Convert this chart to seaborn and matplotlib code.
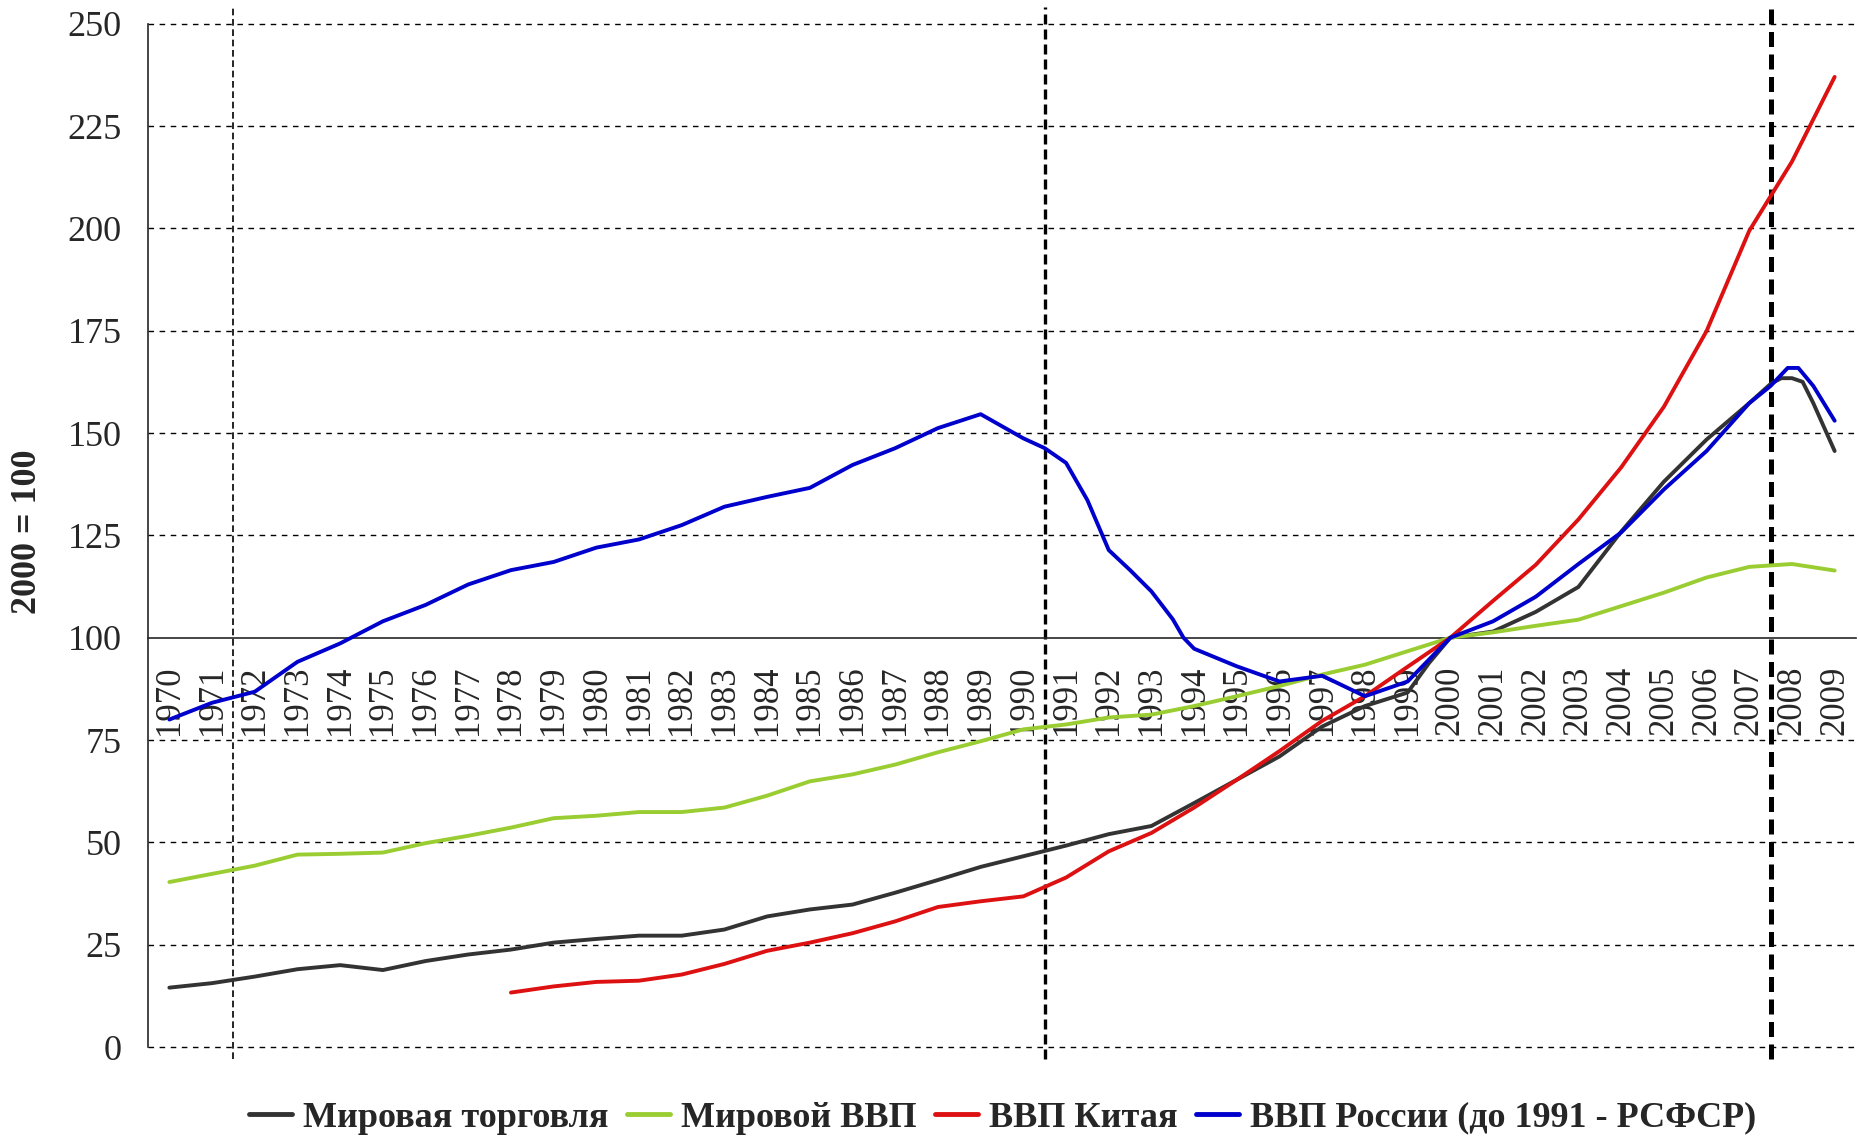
import numpy as np
import pandas as pd
import matplotlib
matplotlib.use("Agg")
import matplotlib.pyplot as plt
import seaborn as sns

# ---------------- data (2000 = 100) ----------------
years = list(range(1970, 2010))

series_names = ["Мировая торговля", "Мировой ВВП", "ВВП Китая", "ВВП России (до 1991 - РСФСР)"]
series_colors = ["#333333", "#9ACD32", "#DD1111", "#0000CC"]

trade_x = years[:30] + [1999.5] + years[30:38] + [2007.5, 2007.75, 2008.0, 2008.25, 2008.5, 2009]
trade_y = [14.5, 15.6, 17.2, 19.0, 20.0, 18.8, 21.0, 22.6, 23.8, 25.5,
           26.4, 27.2, 27.2, 28.7, 31.9, 33.6, 34.8, 37.7, 40.8, 44.0,
           46.6, 49.2, 52.0, 54.0, 59.6, 65.3, 71.0, 78.3, 83.3, 86.6,
           93.8,
           100.0, 101.5, 106.3, 112.4, 125.9, 138.1, 148.4, 157.3,
           162.0, 163.4, 163.4, 162.5, 157.3, 145.6]

world_x = years
world_y = [40.3, 42.3, 44.3, 47.0, 47.2, 47.5, 49.8, 51.6, 53.6, 55.9,
           56.5, 57.4, 57.4, 58.5, 61.4, 64.9, 66.6, 69.0, 72.0, 74.7,
           77.6, 78.8, 80.5, 81.2, 83.3, 85.7, 88.2, 91.0, 93.4, 96.7,
           100.0, 101.3, 102.9, 104.4, 107.7, 111.0, 114.7, 117.3, 118.0, 116.4]

china_x = years[8:]
china_y = [13.3, 14.8, 15.9, 16.2, 17.7, 20.3, 23.5, 25.5, 27.8, 30.7,
           34.2, 35.6, 36.8, 41.4, 47.8, 52.3, 58.5, 65.3, 72.3, 79.7,
           85.7, 92.9, 100.0, 109.0, 117.8, 128.9, 141.6, 156.4, 174.9, 199.4,
           216.3, 237.0]

russia_x = (years[:21] + [1990.5, 1991, 1991.5, 1992, 1992.5, 1993, 1993.5, 1993.75, 1994]
            + years[25:38] + [2007.5, 2007.9, 2008.15, 2008.5, 2009])
russia_y = [80.0, 84.1, 86.8, 94.1, 98.6, 104.0, 108.0, 113.0, 116.5, 118.5,
            122.0, 124.0, 127.5, 132.0, 134.4, 136.6, 142.2, 146.3, 151.2, 154.6,
            148.7,
            146.3, 142.7, 133.6, 121.4, 116.5, 111.3, 104.5, 100.0, 97.3,
            93.0, 89.3, 90.7, 85.7, 89.3, 100.0, 104.0, 110.0, 118.0, 125.7,
            136.2, 145.6, 157.3,
            161.5, 165.9, 165.9, 161.5, 153.0]

ytick_values = list(range(0, 251, 25))
year_labels = [str(y) for y in years]
marker_boundaries = [1971.5, 1990.5, 2007.5]   # vertical dashed lines

# ---------------- build long table ----------------
frames = []
for name, xs, ys in zip(series_names,
                        [trade_x, world_x, china_x, russia_x],
                        [trade_y, world_y, china_y, russia_y]):
    frames.append(pd.DataFrame({"pos": np.array(xs, dtype=float) - 1970.0,
                                "value": ys, "series": name}))
df = pd.concat(frames, ignore_index=True)

# ---------------- plot ----------------
sns.set_style("white")
plt.rcParams["font.family"] = ["Liberation Serif", "DejaVu Serif"]

fig = plt.figure(figsize=(18.6, 11.42), dpi=100)
left, right = 148 / 1860, 1856 / 1860
top, bottom = 1 - 23.7 / 1142, 1 - 1047 / 1142
ax = fig.add_axes([left, bottom, right - left, top - bottom])

# horizontal dashed grid
for v in ytick_values:
    if v != 100:
        ax.axhline(v, color="black", lw=1.0, ls=(0, (4, 4)), zorder=1, clip_on=False)

# vertical dashed markers
widths = [1.2, 2.4, 3.6]
for b, w in zip(marker_boundaries, widths):
    ax.vlines(b - 1970, -3, 254, color="black", lw=w, ls=(0, (4, 2.2)) if w < 2 else (0, (3, 1.5)),
              zorder=1, clip_on=False)

sns.lineplot(data=df, x="pos", y="value", hue="series", hue_order=series_names,
             palette=series_colors, linewidth=2.8, estimator=None, sort=True,
             ax=ax, zorder=3)

ax.set_xlim(-0.5, len(years) - 0.5)
ax.set_ylim(0, 250)

# spines
ax.spines["top"].set_visible(False)
ax.spines["right"].set_visible(False)
ax.spines["left"].set_linewidth(1.2)
ax.spines["bottom"].set_position(("data", 100))
ax.spines["bottom"].set_linewidth(1.2)

# x ticks: marks at category boundaries, labels at centres
n = len(years)
ax.set_xticks(np.arange(-0.5, n, 1.0), labels=[""] * (n + 1))
ax.set_xticks(np.arange(n), labels=year_labels, minor=True)
ax.tick_params(axis="x", which="major", direction="out", length=9, width=1.2)
ax.tick_params(axis="x", which="minor", length=0, pad=20, labelsize=25, labelrotation=90)

# y ticks
ax.set_yticks(ytick_values)
ax.tick_params(axis="y", direction="out", length=8, width=1.2, labelsize=26, pad=11)
ax.set_xlabel("")
ax.set_ylabel("")

fig.text(27 / 1860, 1 - 532 / 1142, "2000 = 100", rotation=90, fontweight="bold",
         fontsize=26, ha="center", va="center")

# legend
handles, labels = ax.get_legend_handles_labels()
ax.get_legend().remove()
leg = fig.legend(handles, labels, loc="center", bbox_to_anchor=(0.539, 0.021), ncol=4,
                 frameon=False, prop={"weight": "bold", "size": 26},
                 handlelength=1.2, handletextpad=0.3, columnspacing=0.5)
for h in leg.get_lines():
    h.set_linewidth(3.5)

fig.savefig("out.png", dpi=100)
